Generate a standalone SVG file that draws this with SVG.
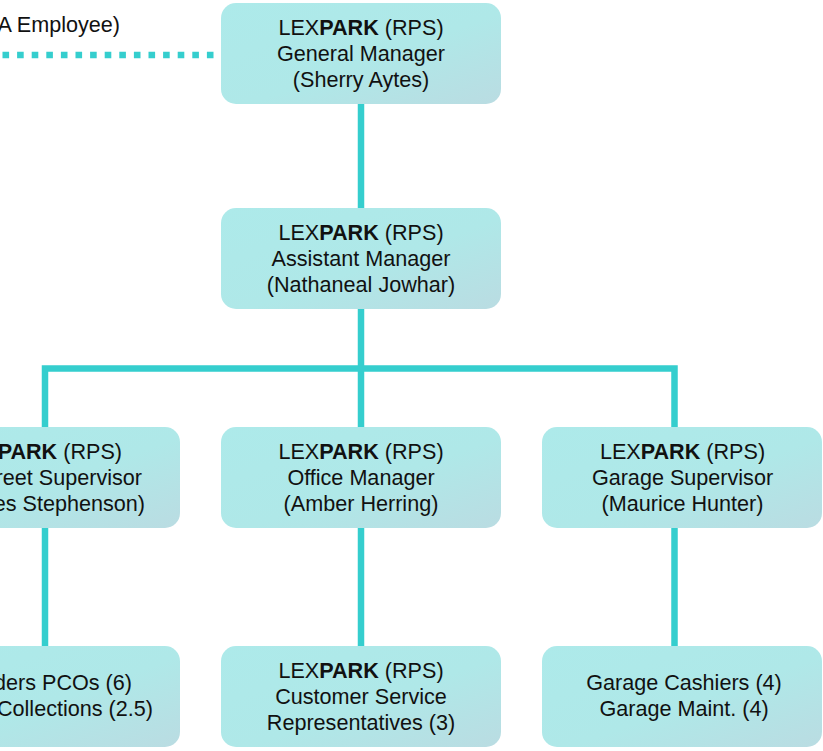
<svg xmlns="http://www.w3.org/2000/svg" width="823" height="751" viewBox="0 0 823 751">
<defs>
<linearGradient id="bg" x1="0" y1="0" x2="1" y2="1">
<stop offset="0" stop-color="#ADEAEA"/>
<stop offset="0.55" stop-color="#AFE8E8"/>
<stop offset="1" stop-color="#BADCE2"/>
</linearGradient>
</defs>
<style>
.box{fill:url(#bg);stroke:none}
.t{font-family:"Liberation Sans",Arial,sans-serif;font-size:21.6px;fill:#111;text-anchor:middle}
.e{text-anchor:end}
.s{text-anchor:start}
.c{stroke:#35CECE;stroke-width:6.5;fill:none}
.d{stroke:#35CECE;stroke-width:6.5;fill:none;stroke-dasharray:6.6 8}
</style>
<rect width="823" height="751" fill="#fff"/>
<g id="connectors">
<line class="d" x1="213.5" y1="55" x2="0" y2="55"/>
<line class="c" x1="361" y1="104" x2="361" y2="208"/>
<line class="c" x1="361" y1="309" x2="361" y2="427"/>
<polyline class="c" points="45,427 45,368.5 674.5,368.5 674.5,427"/>
<line class="c" x1="45" y1="528" x2="45" y2="646"/>
<line class="c" x1="361" y1="528" x2="361" y2="646"/>
<line class="c" x1="674.5" y1="528" x2="674.5" y2="646"/>
</g>
<g id="note">
<text class="t e" x="120" y="32">A Employee)</text>
</g>
<g id="gm">
<rect class="box" x="221" y="3" width="280" height="101" rx="15"/>
<text class="t" x="361" y="35">LEX<tspan font-weight="bold">PARK</tspan> (RPS)</text>
<text class="t" x="361" y="61">General Manager</text>
<text class="t" x="361" y="87">(Sherry Aytes)</text>
</g>
<g id="am">
<rect class="box" x="221" y="208" width="280" height="101" rx="15"/>
<text class="t" x="361" y="240">LEX<tspan font-weight="bold">PARK</tspan> (RPS)</text>
<text class="t" x="361" y="266">Assistant Manager</text>
<text class="t" x="361" y="292">(Nathaneal Jowhar)</text>
</g>
<g id="street">
<rect class="box" x="-100" y="427" width="280" height="101" rx="15"/>
<text class="t e" x="122" y="459">LEX<tspan font-weight="bold">PARK</tspan> (RPS)</text>
<text class="t e" x="142" y="485">reet Supervisor</text>
<text class="t e" x="145" y="511">es Stephenson)</text>
</g>
<g id="office">
<rect class="box" x="221" y="427" width="280" height="101" rx="15"/>
<text class="t" x="361" y="459">LEX<tspan font-weight="bold">PARK</tspan> (RPS)</text>
<text class="t" x="361" y="485">Office Manager</text>
<text class="t" x="361" y="511">(Amber Herring)</text>
</g>
<g id="garage">
<rect class="box" x="542" y="427" width="280" height="101" rx="15"/>
<text class="t" x="682.5" y="459">LEX<tspan font-weight="bold">PARK</tspan> (RPS)</text>
<text class="t" x="682.5" y="485">Garage Supervisor</text>
<text class="t" x="682.5" y="511">(Maurice Hunter)</text>
</g>
<g id="pcos">
<rect class="box" x="-100" y="646" width="280" height="101" rx="15"/>
<text class="t e" x="132" y="690">ders PCOs (6)</text>
<text class="t e" x="153" y="716">Collections (2.5)</text>
</g>
<g id="csr">
<rect class="box" x="221" y="646" width="280" height="101" rx="15"/>
<text class="t" x="361" y="678">LEX<tspan font-weight="bold">PARK</tspan> (RPS)</text>
<text class="t" x="361" y="704">Customer Service</text>
<text class="t" x="361" y="730">Representatives (3)</text>
</g>
<g id="cashiers">
<rect class="box" x="542" y="646" width="280" height="101" rx="15"/>
<text class="t" x="684" y="690">Garage Cashiers (4)</text>
<text class="t" x="684" y="716">Garage Maint. (4)</text>
</g>
</svg>
